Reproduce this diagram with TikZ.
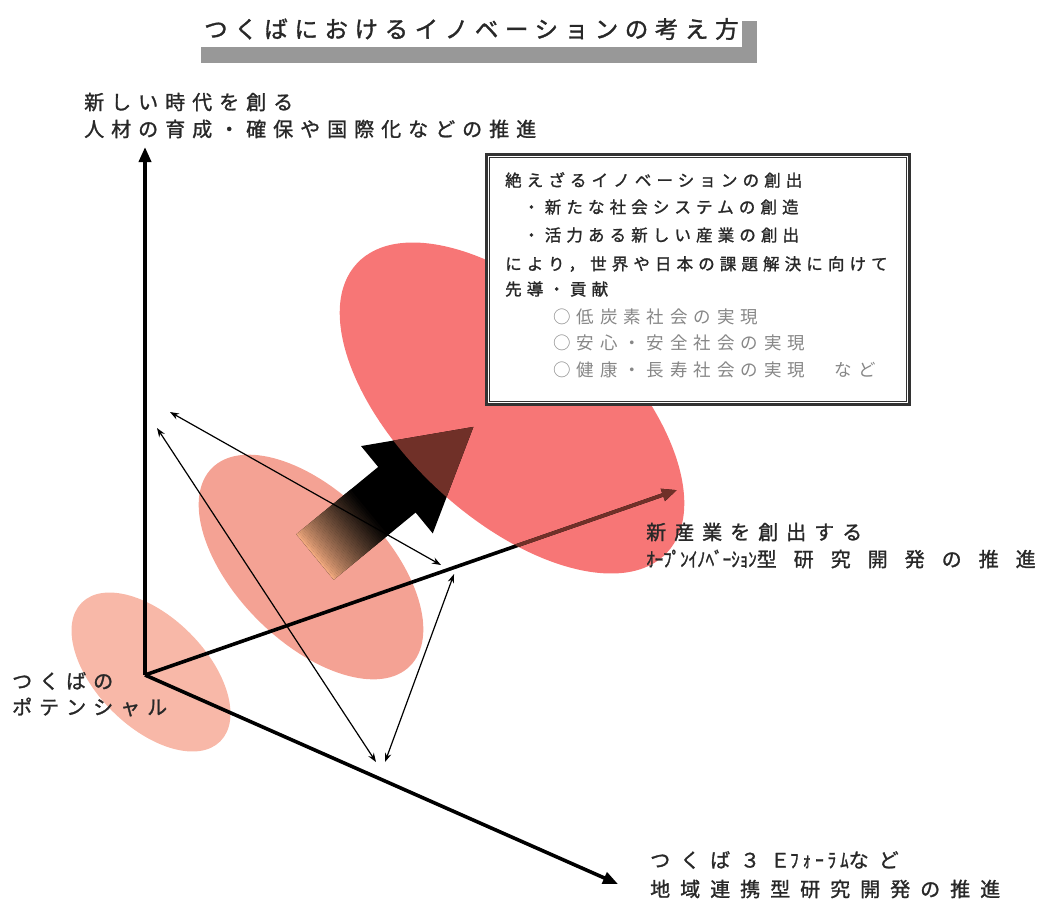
\documentclass[tikz,border=0pt]{standalone}
\usepackage{fontspec}
\setmainfont{Noto Sans CJK JP}
\usetikzlibrary{arrows.meta}
\newcommand{\lsp}[1]{\addfontfeatures{LetterSpace=#1}}
\newcommand{\lspb}[2]{\addfontfeatures{LetterSpace=#1,FakeBold=#2}}
\newcommand{\halfw}[1]{\addfontfeatures{LetterSpace=#1,FakeStretch=0.85}}
\definecolor{smallell}{RGB}{248,184,168}
\definecolor{midell}{RGB}{244,162,148}
\definecolor{bigell}{RGB}{247,118,118}
\definecolor{brownov}{RGB}{112,48,40}
\definecolor{txt}{RGB}{40,40,40}
\definecolor{lighttxt}{RGB}{135,135,135}
\definecolor{shadowgray}{RGB}{152,152,152}
\definecolor{peach}{RGB}{240,168,125}
\begin{document}
\begin{tikzpicture}[x=1pt,y=-1pt,
  axisline/.style={line width=3.6pt, draw=black, -{Triangle[length=15pt,width=12pt]}},
  thinarrow/.style={line width=1.2pt, draw=black, {Stealth[length=9pt,width=6.5pt]}-{Stealth[length=9pt,width=6.5pt]}},
  lbl/.style={anchor=west, inner sep=0pt, text=txt, font=\fontsize{20}{24}\selectfont\lspb{35}{1.3}},
  boxtxt/.style={anchor=west, inner sep=0pt, text=txt, font=\fontsize{16.5}{20}\selectfont\lspb{31}{1.3}},
  boxgray/.style={anchor=west, inner sep=0pt, text=lighttxt, font=\fontsize{17.5}{20}\selectfont\lsp{34}},
  frame/.style={draw=black!80, line width=2.8pt, fill=white, inner sep=0pt}
]
\useasboundingbox (0,0) rectangle (1048,911);

% title
\fill[shadowgray] (201,47) rectangle (757,63);
\fill[shadowgray] (742,21) rectangle (757,63);
\node[anchor=west, inner sep=0pt, text=txt, font=\fontsize{23.5}{26}\selectfont\lspb{28}{1.4}] (title) at (204,29) {つくばにおけるイノベーションの考え方};

% ellipses
\fill[smallell, rotate around={-45:(151,672)}] (151,672) ellipse [x radius=98, y radius=55];
\fill[midell, rotate around={-45:(311,567)}] (311,567) ellipse [x radius=140, y radius=75];
\fill[bigell, rotate around={-43:(512,408)}] (512,408) ellipse [x radius=212, y radius=110];

% axes
\coordinate (O) at (145,675);
\coordinate (V) at (145,147);
\coordinate (R) at (677,490);
\coordinate (D) at (618,884);
\draw[axisline] (O) -- (V);
\draw[axisline] (O) -- (R);
\draw[axisline] (O) -- (D);
\begin{scope}
  \clip[rotate around={-43:(512,408)}] (512,408) ellipse [x radius=212, y radius=110];
  \draw[axisline, draw=brownov] (O) -- (R);
\end{scope}

% big gradient arrow
\begin{scope}[shift={(315,557)}, rotate=39.4]
  \clip (0,-29.5) -- (106,-29.5) -- (106,-56.5) -- (205,0) -- (106,56.5) -- (106,29.5) -- (0,29.5) -- cycle;
  \fill[black] (-1,-60) rectangle (210,60);
  \foreach \i in {0,...,34} {
    \pgfmathsetmacro{\p}{100*(\i/35)^0.8}
    \fill[black!\p!peach] (\i*2,-60) rectangle (\i*2+2.3,60);
  }
\end{scope}
\begin{scope}
  \clip[shift={(315,557)}, rotate=39.4] (0,-29.5) -- (106,-29.5) -- (106,-56.5) -- (205,0) -- (106,56.5) -- (106,29.5) -- (0,29.5) -- cycle;
  \fill[brownov, rotate around={-43:(512,408)}] (512,408) ellipse [x radius=212, y radius=110];
\end{scope}

% thin double arrows
\coordinate (A1) at (170,412);
\coordinate (A2) at (441,565);
\coordinate (B1) at (157,428);
\coordinate (B2) at (376,762);
\coordinate (C1) at (454,574);
\coordinate (C2) at (385,762);
\draw[thinarrow] (A1) -- (A2);
\draw[thinarrow] (B1) -- (B2);
\draw[thinarrow] (C1) -- (C2);

% box
\node[frame, minimum width=423pt, minimum height=250pt, anchor=north west] (box) at (485,153) {};
\draw[draw=black!80, line width=0.9pt] ([shift={(4.8,4.8)}]box.north west) rectangle ([shift={(-4.8,-4.8)}]box.south east);
\node[boxtxt] (b1) at (505,180) {絶えざるイノベーションの創出};
\node[boxtxt] (b2) at (523,207) {・新たな社会システムの創造};
\node[boxtxt] (b3) at (523,235) {・活力ある新しい産業の創出};
\node[boxtxt] (b4) at (505,264) {により，世界や日本の課題解決に向けて};
\node[boxtxt] (b5) at (505,289) {先導・貢献};
\node[boxgray] (b6) at (553,317) {○低炭素社会の実現};
\node[boxgray] (b7) at (553,343) {○安心・安全社会の実現};
\node[boxgray] (b8) at (553,370) {○健康・長寿社会の実現　など};

% labels
\node[lbl] (l1) at (84,102) {新しい時代を創る};
\node[lbl] (l2) at (84,129) {人材の育成・確保や国際化などの推進};
\node[lbl] (p1) at (12,681) {つくばの};
\node[lbl] (p2) at (12,707) {ポテンシャル};
\node[lbl, font=\fontsize{20}{24}\selectfont\lspb{40}{1.3}] (r1) at (646,532) {新産業を創出する};
\node[lbl] (r2) at (646,559) {{\halfw{0}ｵｰﾌﾟﾝｲﾉﾍﾞｰｼｮﾝ}{\lsp{85}型研究開発の推進}};
\node[lbl, font=\fontsize{20}{24}\selectfont\lspb{50}{1.3}] (d1) at (650,860) {つくば３Ｅ{\halfw{20}ﾌｫｰﾗﾑ}など};
\node[lbl, font=\fontsize{20}{24}\selectfont\lspb{50}{1.3}] (d2) at (650,889) {地域連携型研究開発の推進};
\end{tikzpicture}
\end{document}
